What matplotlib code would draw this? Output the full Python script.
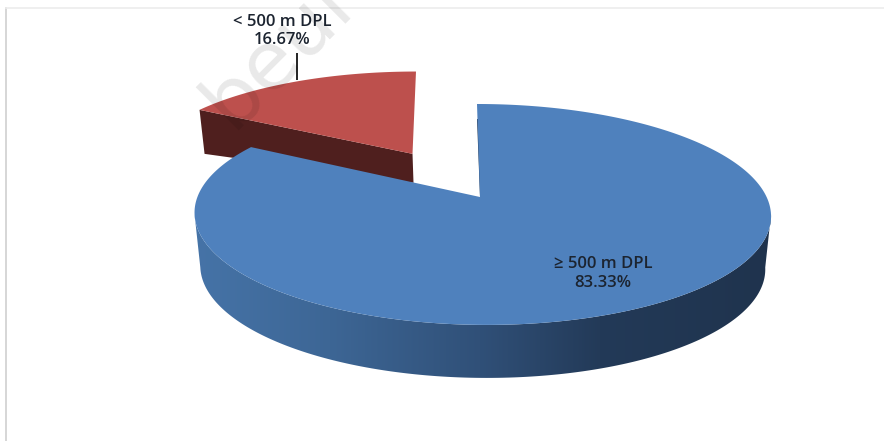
import numpy as np
import matplotlib
matplotlib.use("Agg")
import matplotlib.pyplot as plt
from matplotlib.patches import Polygon

# Pie contents
categories = ["\u2265 500 m DPL", "< 500 m DPL"]
shares = [83.33, 16.67]
share_labels = ["83.33%", "16.67%"]

W, H = 884, 441

# Perspective of the tilted disc, in canvas pixels
CX, CY = 482.0, 197.0
RX, RY = 284.6, 107.7
PERSP = 0.158
SHEAR = -5.0
SHRINK = 0.98
EXPLODE = 0.494
APEX_X = 480.0
SLICE_SHIFT = -1.5
WALL_DEPTH = 53


def project(u, v):
    d = 1 + PERSP * v
    return CX + RX * u / d + SHEAR * v, CY - RY * v / d


def rim(a0, a1, du=0.0, dv=0.0, n=300):
    t = np.radians(np.linspace(a0, a1, n))
    return project(np.sin(t) + du, np.cos(t) + dv)


def lower(x, y, depth):
    return CX + SHRINK * (x - CX), y + depth


fig = plt.figure(figsize=(W / 100, H / 100), dpi=100)
ax = fig.add_axes([0, 0, 1, 1])
ax.set_xlim(0, W)
ax.set_ylim(H, 0)
ax.axis("off")

# Chart frame
ax.plot([5.5, 5.5], [H, 7.5], color="#cfcfcf", lw=1.2, zorder=1)
ax.plot([5.5, W], [7.5, 7.5], color="#ececec", lw=1.2, zorder=1)

# Slice angles, clockwise from twelve o'clock
blue_end = 360 * shares[0] / sum(shares)
mid = np.radians((blue_end + 360) / 2)
du, dv = EXPLODE * np.sin(mid), EXPLODE * np.cos(mid)

# Pulled-out slice: cut face, then top
rx, ry = rim(blue_end, 360, du, dv)
rx = rx + SLICE_SHIFT
px, py = project(du, dv)
px += SLICE_SHIFT
fx, fy = project(du + np.sin(np.radians(blue_end)), dv + np.cos(np.radians(blue_end)))
fx += SLICE_SHIFT
face = [(fx, fy), (px, py), (px + 1, py + 29), (fx + 5, fy + 44)]
ax.add_patch(Polygon(face, closed=True, fc="#4f1f1e", ec="none", zorder=2))
ax.add_patch(Polygon(np.column_stack([np.r_[px, rx], np.r_[py, ry]]), closed=True,
                     fc="#bd504d", ec="none", zorder=3))

# Main slice: inner edge, curved wall with a left-to-right shade, then top
tx, ty = rim(0, blue_end)
ox, oy = APEX_X, CY
ex, ey = project(0, 1)
ax.add_patch(Polygon([(ox, oy), (ex, ey + 15), (ex + 2.5, ey + 15), (ox + 1.5, oy)],
                     closed=True, fc="#1f344f", ec="none", zorder=4))

# The wall runs between the two points where the rim is widest
tangent = np.degrees(np.arccos(-PERSP))
a = np.radians(np.linspace(tangent, 360 - tangent, 500))
sx, sy = project(np.sin(a), np.cos(a))
bx, by = lower(sx, sy, WALL_DEPTH)
wall = Polygon(np.column_stack([np.r_[sx, bx[::-1]], np.r_[sy, by[::-1]]]), closed=True,
               fc="none", ec="none", zorder=4)
ax.add_patch(wall)
stops_x = [190, 330, 480, 600, 775]
stops_rgb = np.array([[0x46, 0x74, 0xa8], [0x3d, 0x66, 0x95], [0x30, 0x50, 0x78],
                      [0x23, 0x3a, 0x58], [0x1f, 0x33, 0x4d]]) / 255
cols = np.arange(190, 776)
strip = np.stack([np.interp(cols, stops_x, stops_rgb[:, i]) for i in range(3)], axis=-1)[None, :, :]
img = ax.imshow(strip, extent=(190, 776, 400, 180), aspect="auto", zorder=4,
                interpolation="bilinear")
img.set_clip_path(wall)
ax.set_xlim(0, W)
ax.set_ylim(H, 0)

ax.add_patch(Polygon(np.column_stack([np.r_[ox, tx], np.r_[oy, ty]]), closed=True,
                     fc="#4f81bd", ec="none", zorder=5))

# Leader line to the small slice
ax.plot([296.7, 296.7], [53, 80], color="#111111", lw=1.3, zorder=6, solid_capstyle="butt")

# Data labels
font = dict(family="Open Sans", fontsize=12, fontweight="semibold", color="#1c2430",
            ha="center", va="center", zorder=7)
ax.text(603, 264, categories[0], **font)
ax.text(603, 283, share_labels[0], **font)
ax.text(282, 22, categories[1], **font)
ax.text(282, 40, share_labels[1], **font)

# Faint diagonal stamp across the top
ax.text(232, 130, "beul", family="DejaVu Sans", fontsize=58, rotation=45, color="#000000",
        alpha=0.09, ha="left", va="baseline", rotation_mode="anchor", zorder=8, clip_on=True)

fig.savefig("out.png", dpi=100, facecolor="white")
